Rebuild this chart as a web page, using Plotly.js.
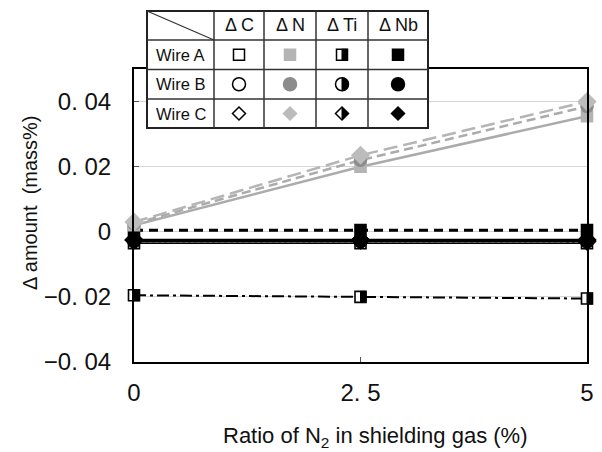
<!DOCTYPE html>
<html>
<head>
<meta charset="utf-8">
<script src="https://cdn.plot.ly/plotly-3.0.1.min.js"></script>
<style>html,body{margin:0;padding:0;background:#fff;}</style>
</head>
<body>
<div id="chart" style="width:602px;height:452px;"></div>
<script>
// ---------- data ----------
const xVals = [0, 2.5, 5];
const xTickVals = [0, 2.5, 5];
const xTickText = ['0', '2. 5', '5'];
const yTickVals = [-0.04, -0.02, 0, 0.02, 0.04];
const yTickText = ['\u22120. 04', '\u22120. 02', '0', '0. 02', '0. 04'];

const wires = ['Wire A', 'Wire B', 'Wire C'];
const elements = ['\u0394 C', '\u0394 N', '\u0394 Ti', '\u0394 Nb'];

const dC_A = [-0.0035, -0.0035, -0.0035];
const dC_B = [-0.003, -0.003, -0.003];
const dC_C = [-0.0025, -0.0025, -0.0025];
const dN_A = [0.002, 0.020, 0.0355];
const dN_B = [0.0025, 0.022, 0.0385];
const dN_C = [0.003, 0.0235, 0.040];
const dTi_A = [-0.0195, -0.020, -0.0205];
const dTi_B = [-0.003, -0.003, -0.003];
const dTi_C = [-0.0025, -0.0025, -0.003];
const dNb_A = [0.0005, 0.0005, 0.0005];
const dNb_B = [-0.0025, -0.0025, -0.0025];
const dNb_C = [-0.0025, -0.0025, -0.0025];

const xRange = [0, 5];
const yRange = [-0.04, 0.05];

// ---------- styles ----------
const FONT = '"Liberation Sans", Arial, sans-serif';
const symbolOf = {'Wire A': 'square', 'Wire B': 'circle', 'Wire C': 'diamond'};
const sizeOf = {'Wire A': 11, 'Wire B': 12, 'Wire C': 13};

const series = [
  {name: 'C A', y: dC_A, wire: 'Wire A', kind: 'open', dash: 'solid', lc: '#000', lw: 1.5},
  {name: 'C B', y: dC_B, wire: 'Wire B', kind: 'open', dash: 'dot', lc: '#000', lw: 1.5},
  {name: 'C C', y: dC_C, wire: 'Wire C', kind: 'open', dash: 'solid', lc: '#000', lw: 1.5},
  {name: 'Ti A', y: dTi_A, wire: 'Wire A', kind: 'half', dash: '12px,4px,3px,4px', lc: '#000', lw: 2},
  {name: 'Ti B', y: dTi_B, wire: 'Wire B', kind: 'half', dash: 'solid', lc: '#000', lw: 1.5},
  {name: 'Ti C', y: dTi_C, wire: 'Wire C', kind: 'half', dash: 'dot', lc: '#000', lw: 1.5},
  {name: 'Nb A', y: dNb_A, wire: 'Wire A', kind: 'black', dash: '9px,6px', lc: '#000', lw: 3},
  {name: 'Nb B', y: dNb_B, wire: 'Wire B', kind: 'black', dash: 'solid', lc: '#000', lw: 2.5},
  {name: 'Nb C', y: dNb_C, wire: 'Wire C', kind: 'black', dash: 'dot', lc: '#000', lw: 1.5},
  {name: 'N A', y: dN_A, wire: 'Wire A', kind: 'greyA', dash: 'solid', lc: '#ababab', lw: 2.5},
  {name: 'N B', y: dN_B, wire: 'Wire B', kind: 'greyB', dash: '9px,5px', lc: '#ababab', lw: 2.5},
  {name: 'N C', y: dN_C, wire: 'Wire C', kind: 'greyC', dash: '14px,6px', lc: '#b5b5b5', lw: 2.5}
];
const fillOf = {open: '#ffffff', half: '#ffffff', black: '#000000', greyA: '#b4b4b4', greyB: '#8c8c8c', greyC: '#bcbcbc'};
const edgeOf = {open: '#000000', half: '#000000', black: '#000000', greyA: '#b4b4b4', greyB: '#8c8c8c', greyC: '#bcbcbc'};

const traces = series.map(s => ({
  type: 'scatter', mode: 'lines+markers', name: s.name,
  x: xVals, y: s.y, cliponaxis: false, showlegend: false,
  line: {color: s.lc, width: s.lw, dash: s.dash},
  marker: {symbol: symbolOf[s.wire], size: sizeOf[s.wire], color: fillOf[s.kind],
           line: {color: edgeOf[s.kind], width: 1.6}}
}));

// ---------- right-half fill paths ----------
function halfFill(shape, r, ref) {
  const base = Object.assign({xsizemode: 'pixel', ysizemode: 'pixel', layer: 'above', fillcolor: '#000', line: {color: '#000', width: 1}}, ref);
  if (shape === 'square') return Object.assign({}, base, {type: 'rect', x0: 0, x1: r, y0: -r, y1: r});
  if (shape === 'circle') {
    const k = 0.5523 * r;
    return Object.assign({}, base, {type: 'path', path: `M 0,${r} C ${k},${r} ${r},${k} ${r},0 C ${r},${-k} ${k},${-r} 0,${-r} Z`});
  }
  return Object.assign({}, base, {type: 'path', path: `M 0,${r} L ${r},0 L 0,${-r} Z`});
}

function glyph(shape, kind, size, ref) {
  const r = size / 2;
  const base = Object.assign({xsizemode: 'pixel', ysizemode: 'pixel', layer: 'above'}, ref);
  const fill = fillOf[kind];
  const edge = edgeOf[kind];
  const out = [];
  if (shape === 'square') out.push(Object.assign({}, base, {type: 'rect', x0: -r, x1: r, y0: -r, y1: r, fillcolor: fill, line: {color: edge, width: 1.5}}));
  else if (shape === 'circle') out.push(Object.assign({}, base, {type: 'circle', x0: -r, x1: r, y0: -r, y1: r, fillcolor: fill, line: {color: edge, width: 1.5}}));
  else out.push(Object.assign({}, base, {type: 'path', path: `M 0,${r} L ${r},0 L 0,${-r} L ${-r},0 Z`, fillcolor: fill, line: {color: edge, width: 1.5}}));
  if (kind === 'half') out.push(halfFill(shape, r, ref));
  return out;
}

const shapes = [];
// half-filled Ti markers on data (anchored on the full-size plot domain so edge points are not clipped)
series.filter(s => s.kind === 'half').forEach(s => {
  s.y.forEach((v, i) => {
    const xd = (xVals[i] - xRange[0]) / (xRange[1] - xRange[0]);
    const yd = (v - yRange[0]) / (yRange[1] - yRange[0]);
    shapes.push(halfFill(symbolOf[s.wire], sizeOf[s.wire] / 2, {xref: 'paper', yref: 'paper', xanchor: xd, yanchor: yd}));
  });
});

// ---------- legend table (layout, in paper space) ----------
const L = 134, T = 69, W = 453, H = 293;
const px = x => (x - L) / W;
const py = y => (T + H - y) / H;
const colX = [147, 214, 264, 316, 368, 428];
const rowY = [11, 40, 69.5, 99, 128];
shapes.push({type: 'rect', xref: 'paper', yref: 'paper', x0: px(colX[0]), x1: px(colX[5]), y0: py(rowY[4]), y1: py(rowY[0]),
  fillcolor: '#fff', line: {color: '#222', width: 2}, layer: 'above'});
colX.slice(1, 5).forEach(cx => shapes.push({type: 'line', xref: 'paper', yref: 'paper', x0: px(cx), x1: px(cx), y0: py(rowY[4]), y1: py(rowY[0]), line: {color: '#333', width: 1.5}, layer: 'above'}));
rowY.slice(1, 4).forEach(ry => shapes.push({type: 'line', xref: 'paper', yref: 'paper', x0: px(colX[0]), x1: px(colX[5]), y0: py(ry), y1: py(ry), line: {color: '#333', width: 1.5}, layer: 'above'}));
shapes.push({type: 'line', xref: 'paper', yref: 'paper', x0: px(colX[0]), y0: py(rowY[0]), x1: px(colX[1]), y1: py(rowY[1]), line: {color: '#333', width: 1.2}, layer: 'above'});

const legendKinds = ['open', null, 'half', 'black'];
const greyKind = {'Wire A': 'greyA', 'Wire B': 'greyB', 'Wire C': 'greyC'};
const legendSize = {'Wire A': 11, 'Wire B': 13, 'Wire C': 13};
const annotations = [];
elements.forEach((el, c) => {
  const cx = (colX[c + 1] + colX[c + 2]) / 2;
  annotations.push({xref: 'paper', yref: 'paper', x: px(cx), y: py((rowY[0] + rowY[1]) / 2), text: el, showarrow: false,
    font: {family: FONT, size: 18, color: '#111'}, xanchor: 'center', yanchor: 'middle'});
  wires.forEach((w, r) => {
    const cy = (rowY[r + 1] + rowY[r + 2]) / 2;
    const kind = legendKinds[c] || greyKind[w];
    glyph(symbolOf[w], kind, legendSize[w], {xref: 'paper', yref: 'paper', xanchor: px(cx), yanchor: py(cy)}).forEach(g => shapes.push(g));
  });
});
wires.forEach((w, r) => {
  const cy = (rowY[r + 1] + rowY[r + 2]) / 2;
  annotations.push({xref: 'paper', yref: 'paper', x: px((colX[0] + colX[1]) / 2), y: py(cy), text: w, showarrow: false,
    font: {family: FONT, size: 16.5, color: '#111'}, xanchor: 'center', yanchor: 'middle'});
});

// axis titles
annotations.push({xref: 'paper', yref: 'paper', x: px(30), y: py(203), text: '\u0394 amount  (mass%)', textangle: -90,
  showarrow: false, font: {family: FONT, size: 20, color: '#111'}, xanchor: 'center', yanchor: 'middle'});
annotations.push({xref: 'paper', yref: 'paper', x: px(375), y: py(437), text: 'Ratio of N<sub>2</sub> in shielding gas (%)',
  showarrow: false, font: {family: FONT, size: 22, color: '#111'}, xanchor: 'center', yanchor: 'middle'});

const layout = {
  width: 602, height: 452,
  margin: {l: L, r: 602 - L - W, t: T, b: 452 - T - H},
  paper_bgcolor: '#fff', plot_bgcolor: '#fff',
  showlegend: false,
  xaxis: {range: xRange, tickvals: xTickVals, ticktext: xTickText, ticks: 'inside', ticklen: 5, tickcolor: '#555', tickwidth: 1,
    showline: true, linecolor: '#000', linewidth: 2, mirror: true, showgrid: false, zeroline: false,
    tickfont: {family: FONT, size: 24, color: '#111'}, ticklabelstandoff: 8},
  yaxis: {range: yRange, tickvals: yTickVals, ticktext: yTickText, ticks: 'inside', ticklen: 5, tickcolor: '#555', tickwidth: 1,
    showline: true, linecolor: '#000', linewidth: 2, mirror: true, showgrid: true, gridcolor: '#d4d4d4', gridwidth: 1, zeroline: false,
    tickfont: {family: FONT, size: 24, color: '#111'}, ticklabelstandoff: 16},
  shapes: shapes,
  annotations: annotations
};

Plotly.newPlot('chart', traces, layout, {displayModeBar: false, staticPlot: true});
</script>
</body>
</html>
